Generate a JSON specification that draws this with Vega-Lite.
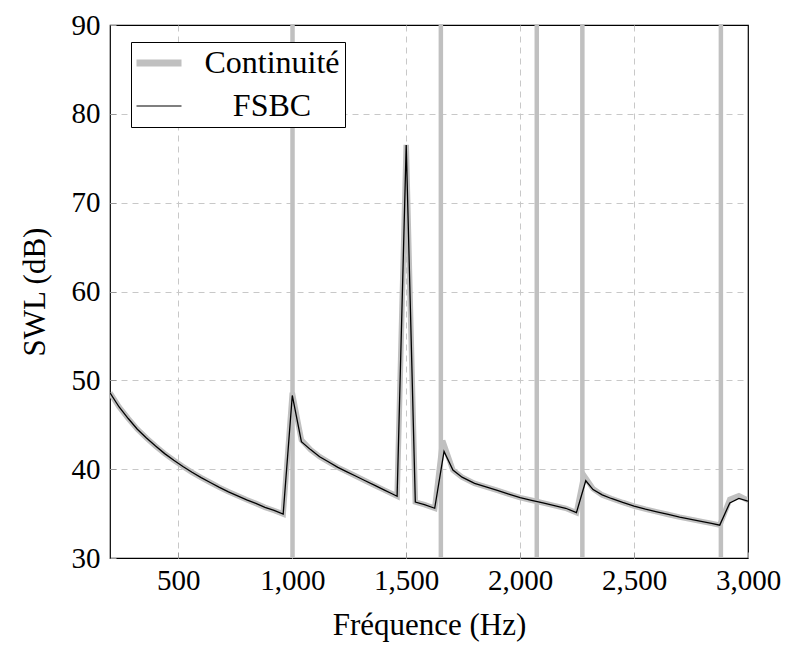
{
  "$schema": "https://vega.github.io/schema/vega-lite/v6.json",
  "width": 638,
  "height": 533,
  "autosize": {"type": "none"},
  "padding": {"left": 110, "top": 25, "right": 39, "bottom": 93},
  "config": {
    "view": {"stroke": "black", "strokeWidth": 1.2},
    "font": "Liberation Serif, Times New Roman, DejaVu Serif, serif",
    "axis": {
      "labelFont": "Liberation Serif, Times New Roman, DejaVu Serif, serif",
      "titleFont": "Liberation Serif, Times New Roman, DejaVu Serif, serif",
      "labelFontSize": 29,
      "titleFontSize": 31,
      "labelColor": "black",
      "titleColor": "black",
      "titleFontWeight": "normal",
      "labelFlush": false,
      "labelOverlap": false,
      "grid": true,
      "gridColor": "#c8c8c8",
      "gridDash": [6, 5],
      "gridWidth": 1,
      "domain": false,
      "ticks": true,
      "tickSize": -6,
      "tickColor": "#999999",
      "tickWidth": 1
    }
  },
  "datasets": {
    "curves": [
      {"series": "Continuité", "f": 200, "v": 48.6},
      {"series": "Continuité", "f": 240, "v": 47.0},
      {"series": "Continuité", "f": 280, "v": 45.7},
      {"series": "Continuité", "f": 320, "v": 44.5},
      {"series": "Continuité", "f": 360, "v": 43.5},
      {"series": "Continuité", "f": 400, "v": 42.6},
      {"series": "Continuité", "f": 440, "v": 41.75},
      {"series": "Continuité", "f": 480, "v": 41.0},
      {"series": "Continuité", "f": 520, "v": 40.3},
      {"series": "Continuité", "f": 560, "v": 39.65},
      {"series": "Continuité", "f": 600, "v": 39.05},
      {"series": "Continuité", "f": 640, "v": 38.5},
      {"series": "Continuité", "f": 680, "v": 37.95},
      {"series": "Continuité", "f": 720, "v": 37.45},
      {"series": "Continuité", "f": 760, "v": 37.0},
      {"series": "Continuité", "f": 800, "v": 36.55},
      {"series": "Continuité", "f": 840, "v": 36.15},
      {"series": "Continuité", "f": 880, "v": 35.7},
      {"series": "Continuité", "f": 920, "v": 35.35},
      {"series": "Continuité", "f": 960, "v": 34.95},
      {"series": "Continuité", "f": 1000, "v": 48.6},
      {"series": "Continuité", "f": 1040, "v": 43.3},
      {"series": "Continuité", "f": 1080, "v": 42.2},
      {"series": "Continuité", "f": 1120, "v": 41.4},
      {"series": "Continuité", "f": 1160, "v": 40.8},
      {"series": "Continuité", "f": 1200, "v": 40.2},
      {"series": "Continuité", "f": 1240, "v": 39.7},
      {"series": "Continuité", "f": 1280, "v": 39.2},
      {"series": "Continuité", "f": 1320, "v": 38.7},
      {"series": "Continuité", "f": 1360, "v": 38.2},
      {"series": "Continuité", "f": 1400, "v": 37.7},
      {"series": "Continuité", "f": 1440, "v": 37.2},
      {"series": "Continuité", "f": 1460, "v": 36.95},
      {"series": "Continuité", "f": 1500, "v": 76.5},
      {"series": "Continuité", "f": 1540, "v": 36.3},
      {"series": "Continuité", "f": 1580, "v": 36.0},
      {"series": "Continuité", "f": 1625, "v": 35.6},
      {"series": "Continuité", "f": 1660, "v": 43.2},
      {"series": "Continuité", "f": 1705, "v": 39.9},
      {"series": "Continuité", "f": 1745, "v": 39.1},
      {"series": "Continuité", "f": 1800, "v": 38.4},
      {"series": "Continuité", "f": 1850, "v": 38.0},
      {"series": "Continuité", "f": 1900, "v": 37.6},
      {"series": "Continuité", "f": 1950, "v": 37.2},
      {"series": "Continuité", "f": 2000, "v": 36.8},
      {"series": "Continuité", "f": 2050, "v": 36.5},
      {"series": "Continuité", "f": 2100, "v": 36.2},
      {"series": "Continuité", "f": 2150, "v": 35.9},
      {"series": "Continuité", "f": 2200, "v": 35.6},
      {"series": "Continuité", "f": 2247, "v": 35.1},
      {"series": "Continuité", "f": 2280, "v": 39.3},
      {"series": "Continuité", "f": 2320, "v": 37.8},
      {"series": "Continuité", "f": 2360, "v": 37.1},
      {"series": "Continuité", "f": 2400, "v": 36.7},
      {"series": "Continuité", "f": 2450, "v": 36.25},
      {"series": "Continuité", "f": 2500, "v": 35.85},
      {"series": "Continuité", "f": 2550, "v": 35.5},
      {"series": "Continuité", "f": 2600, "v": 35.2},
      {"series": "Continuité", "f": 2650, "v": 34.9},
      {"series": "Continuité", "f": 2700, "v": 34.6},
      {"series": "Continuité", "f": 2750, "v": 34.35},
      {"series": "Continuité", "f": 2800, "v": 34.1},
      {"series": "Continuité", "f": 2840, "v": 33.9},
      {"series": "Continuité", "f": 2876, "v": 33.7},
      {"series": "Continuité", "f": 2920, "v": 36.6},
      {"series": "Continuité", "f": 2960, "v": 37.0},
      {"series": "Continuité", "f": 3000, "v": 36.5},
      {"series": "FSBC", "f": 200, "v": 48.6},
      {"series": "FSBC", "f": 240, "v": 47.0},
      {"series": "FSBC", "f": 280, "v": 45.7},
      {"series": "FSBC", "f": 320, "v": 44.5},
      {"series": "FSBC", "f": 360, "v": 43.5},
      {"series": "FSBC", "f": 400, "v": 42.6},
      {"series": "FSBC", "f": 440, "v": 41.75},
      {"series": "FSBC", "f": 480, "v": 41.0},
      {"series": "FSBC", "f": 520, "v": 40.3},
      {"series": "FSBC", "f": 560, "v": 39.65},
      {"series": "FSBC", "f": 600, "v": 39.05},
      {"series": "FSBC", "f": 640, "v": 38.5},
      {"series": "FSBC", "f": 680, "v": 37.95},
      {"series": "FSBC", "f": 720, "v": 37.45},
      {"series": "FSBC", "f": 760, "v": 37.0},
      {"series": "FSBC", "f": 800, "v": 36.55},
      {"series": "FSBC", "f": 840, "v": 36.15},
      {"series": "FSBC", "f": 880, "v": 35.7},
      {"series": "FSBC", "f": 920, "v": 35.35},
      {"series": "FSBC", "f": 960, "v": 34.95},
      {"series": "FSBC", "f": 1000, "v": 48.3},
      {"series": "FSBC", "f": 1040, "v": 43.1},
      {"series": "FSBC", "f": 1080, "v": 42.2},
      {"series": "FSBC", "f": 1120, "v": 41.4},
      {"series": "FSBC", "f": 1160, "v": 40.8},
      {"series": "FSBC", "f": 1200, "v": 40.2},
      {"series": "FSBC", "f": 1240, "v": 39.7},
      {"series": "FSBC", "f": 1280, "v": 39.2},
      {"series": "FSBC", "f": 1320, "v": 38.7},
      {"series": "FSBC", "f": 1360, "v": 38.2},
      {"series": "FSBC", "f": 1400, "v": 37.7},
      {"series": "FSBC", "f": 1440, "v": 37.2},
      {"series": "FSBC", "f": 1460, "v": 36.95},
      {"series": "FSBC", "f": 1500, "v": 76.5},
      {"series": "FSBC", "f": 1540, "v": 36.3},
      {"series": "FSBC", "f": 1580, "v": 36.0},
      {"series": "FSBC", "f": 1625, "v": 35.6},
      {"series": "FSBC", "f": 1666, "v": 42.0},
      {"series": "FSBC", "f": 1705, "v": 39.9},
      {"series": "FSBC", "f": 1745, "v": 39.1},
      {"series": "FSBC", "f": 1800, "v": 38.4},
      {"series": "FSBC", "f": 1850, "v": 38.0},
      {"series": "FSBC", "f": 1900, "v": 37.6},
      {"series": "FSBC", "f": 1950, "v": 37.2},
      {"series": "FSBC", "f": 2000, "v": 36.8},
      {"series": "FSBC", "f": 2050, "v": 36.5},
      {"series": "FSBC", "f": 2100, "v": 36.2},
      {"series": "FSBC", "f": 2150, "v": 35.9},
      {"series": "FSBC", "f": 2200, "v": 35.6},
      {"series": "FSBC", "f": 2247, "v": 35.1},
      {"series": "FSBC", "f": 2288, "v": 38.7},
      {"series": "FSBC", "f": 2320, "v": 37.7},
      {"series": "FSBC", "f": 2360, "v": 37.1},
      {"series": "FSBC", "f": 2400, "v": 36.7},
      {"series": "FSBC", "f": 2450, "v": 36.25},
      {"series": "FSBC", "f": 2500, "v": 35.85},
      {"series": "FSBC", "f": 2550, "v": 35.5},
      {"series": "FSBC", "f": 2600, "v": 35.2},
      {"series": "FSBC", "f": 2650, "v": 34.9},
      {"series": "FSBC", "f": 2700, "v": 34.6},
      {"series": "FSBC", "f": 2750, "v": 34.35},
      {"series": "FSBC", "f": 2800, "v": 34.1},
      {"series": "FSBC", "f": 2840, "v": 33.9},
      {"series": "FSBC", "f": 2876, "v": 33.7},
      {"series": "FSBC", "f": 2920, "v": 36.2},
      {"series": "FSBC", "f": 2960, "v": 36.7},
      {"series": "FSBC", "f": 3000, "v": 36.4}
    ],
    "res": [
      {"series": "Continuité", "f": 1001},
      {"series": "Continuité", "f": 1652},
      {"series": "Continuité", "f": 2073},
      {"series": "Continuité", "f": 2273},
      {"series": "Continuité", "f": 2881}
    ]
  },
  "layer": [
    {
      "data": {"name": "res"},
      "mark": {"type": "rule", "color": "#c0c0c0", "strokeWidth": 4.5},
      "encoding": {
        "x": {
          "field": "f", "type": "quantitative",
          "scale": {"domain": [200, 3000], "nice": false, "zero": false},
          "axis": {
            "values": [500, 1000, 1500, 2000, 2500, 3000],
            "format": ",d",
            "title": "Fréquence (Hz)",
            "labelPadding": 14,
            "titlePadding": 15,
            "gridOpacity": {"condition": {"test": "datum.value === 3000", "value": 0}, "value": 1}
          }
        }
      }
    },
    {
      "data": {"name": "curves"},
      "transform": [{"filter": "datum.series === 'Continuité'"}],
      "mark": {"type": "line", "strokeWidth": 5.5, "clip": true, "strokeJoin": "miter"},
      "encoding": {
        "x": {"field": "f", "type": "quantitative"},
        "y": {
          "field": "v", "type": "quantitative",
          "scale": {"domain": [30, 90], "nice": false, "zero": false},
          "axis": {
            "values": [30, 40, 50, 60, 70, 80, 90],
            "title": "SWL (dB)",
            "labelPadding": 16,
            "titlePadding": 20,
            "gridOpacity": {"condition": {"test": "datum.value === 90 || datum.value === 30", "value": 0}, "value": 1}
          }
        },
        "color": {
          "field": "series", "type": "nominal",
          "scale": {"domain": ["Continuité", "FSBC"], "range": ["#c0c0c0", "black"]},
          "legend": {
            "title": null,
            "orient": "none",
            "legendX": 21,
            "legendY": 17,
            "symbolType": "stroke",
            "symbolSize": 2025,
            "symbolStrokeWidth": 1.2,
            "symbolOffset": 7,
            "labelFont": "Liberation Serif, Times New Roman, DejaVu Serif, serif",
            "labelFontSize": 32,
            "labelColor": "black",
            "labelLimit": 400,
            "labelAlign": "center",
            "labelOffset": 97,
            "rowPadding": 11,
            "padding": 5,
            "strokeColor": "black",
            "fillColor": "white",
            "cornerRadius": 0,
            "encode": {
              "symbols": {"update": {"strokeWidth": {"signal": "datum.value === 'Continuité' ? 7 : 1.2"}}}
            }
          }
        }
      }
    },
    {
      "data": {"name": "curves"},
      "transform": [{"filter": "datum.series === 'FSBC'"}],
      "mark": {"type": "line", "strokeWidth": 1.3, "clip": true, "strokeJoin": "miter"},
      "encoding": {
        "x": {"field": "f", "type": "quantitative"},
        "y": {"field": "v", "type": "quantitative"},
        "color": {"field": "series", "type": "nominal"}
      }
    }
  ]
}
